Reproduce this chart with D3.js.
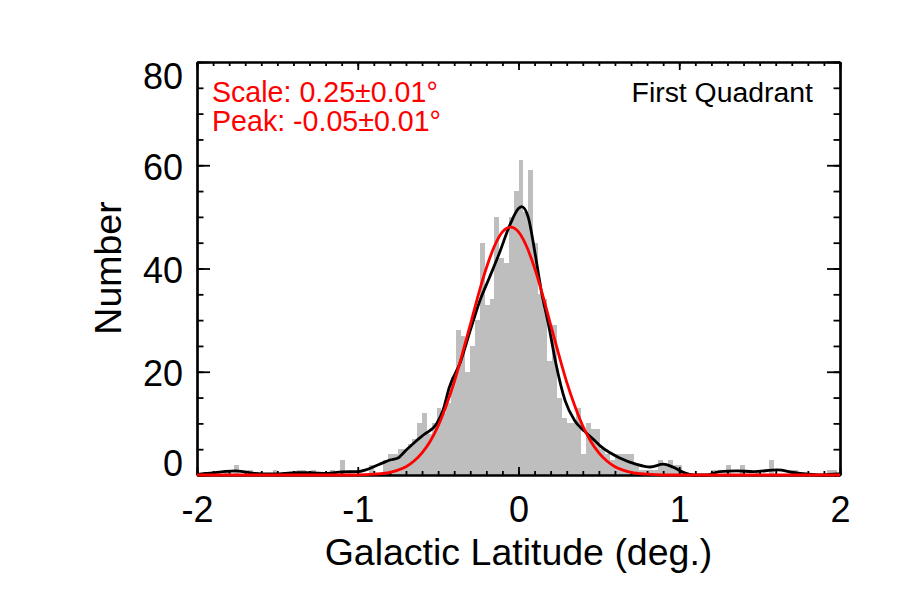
<!DOCTYPE html>
<html>
<head>
<meta charset="utf-8">
<script src="https://cdn.jsdelivr.net/npm/d3@7"></script>
<style>
  body { margin: 0; background: #fff; }
  svg { font-family: "Liberation Sans", Arial, sans-serif; }
</style>
</head>
<body>
<svg id="chart" width="900" height="600"></svg>
<script>
// histogram: bins of 0.03 deg, first bin starts at -1.98
const binStart = -1.98;
const binWidth = 0.03;
const counts = [
  0,0,0,0,0,1,0,2,0,0,
  1,0,0,0,0,1,0,0,0,0,
  1,1,0,1,0,0,0,1,0,3,
  0,0,0,0,0,2,0,0,3,4,
  4,5,5,6,7,10,12,8,10,13,
  12,14,19,28,27,20,25,30,45,33,
  34,50,42,41,50,55,61,51,59,45,
  35,34,22,29,15,11,10,10,13,4,
  10,9,9,5,4,3,4,4,4,4,
  2,1,1,1,1,3,2,3,2,2,
  0,0,0,0,0,0,1,0,0,2,
  0,0,2,0,0,1,0,0,3,0,
  0,0,1,1,0,0,0,0,0,0,
  1,1,0
];

// smoothed distribution (black)
const smoothX = [-2.0,-1.95,-1.89,-1.82,-1.76,-1.7,-1.64,-1.54,-1.46,-1.39,-1.3,-1.19,-1.1,-1.0,-0.95,-0.9,-0.84,-0.8,-0.75,-0.7,-0.64,-0.59,-0.51,-0.47,-0.43,-0.36,-0.3,-0.24,-0.18,-0.12,-0.05,0.0,0.02,0.06,0.1,0.14,0.19,0.23,0.29,0.35,0.41,0.48,0.51,0.57,0.63,0.73,0.82,0.9,0.96,1.03,1.09,1.17,1.25,1.36,1.46,1.61,1.71,1.79,1.88,1.98,2.0];
const smoothY = [0.1,0.3,0.45,0.7,0.8,0.6,0.3,0.2,0.3,0.45,0.45,0.3,0.6,0.65,1.0,1.6,2.4,2.9,3.3,4.8,6.5,7.8,9.9,12.5,17,22,28,33.8,38.3,42.9,48.7,51.6,52,50,43.5,36,28.6,22,14.4,10.5,8.5,6.5,5.6,4.3,3.3,2.1,1.55,2.1,1.55,0.45,0,0,0.65,0.8,0.65,1.0,0.5,0.2,0,0.2,0.2];

// gaussian fit (red)
const fitX = [-2,-1.0,-0.9,-0.8,-0.75,-0.7,-0.65,-0.6,-0.55,-0.5,-0.45,-0.4,-0.35,-0.3,-0.25,-0.2,-0.15,-0.1,-0.05,0,0.05,0.1,0.15,0.2,0.25,0.3,0.35,0.4,0.45,0.5,0.55,0.6,0.65,0.7,0.8,0.9,2];
const fitY = [0,0,0.15,0.5,0.95,1.6,2.7,4.3,6.5,9.5,13.4,18,23.4,29.1,34.9,40.1,44.3,47.1,48,47.1,44.3,40.1,34.9,29.1,23.4,18,13.4,9.5,6.5,4.3,2.7,1.6,0.95,0.5,0.15,0,0];

const xTicks = [-2,-1,0,1,2];
const yTicks = [0,20,40,60,80];
const fitLabels = ['Scale: 0.25\u00B10.01\u00B0', 'Peak: -0.05\u00B10.01\u00B0'];
const regionLabel = 'First Quadrant';

const svg = d3.select('#chart');
const margin = { top: 62, right: 60, bottom: 125, left: 197 };
const width = 900 - margin.left - margin.right;
const height = 600 - margin.top - margin.bottom;

const x = d3.scaleLinear().domain([-2, 2]).range([0, width]);
const y = d3.scaleLinear().domain([0, 80]).range([height, 0]);

const g = svg.append('g')
    .attr('transform', 'translate(' + margin.left + ',' + margin.top + ')');

g.append('clipPath').attr('id', 'plotClip')
  .append('rect').attr('width', width).attr('height', height);

// bars (crisp edges so neighbouring bars join without seams)
g.append('g').attr('clip-path', 'url(#plotClip)')
  .selectAll('rect')
  .data(counts)
  .enter()
  .append('rect')
    .attr('x', (d, i) => Math.round(x(binStart + i * binWidth)))
    .attr('width', (d, i) => Math.round(x(binStart + (i + 1) * binWidth)) - Math.round(x(binStart + i * binWidth)))
    .attr('y', d => y(d))
    .attr('height', d => y(0) - y(d))
    .attr('fill', '#bebebe')
    .attr('shape-rendering', 'crispEdges');

// axes: ticks point inward on all four sides
const xMinor = d3.range(-2, 2.0001, 0.1);
const yMinor = d3.range(0, 80.001, 5);

function styleAxis(sel) {
  sel.select('.domain').attr('stroke', '#000').attr('stroke-width', 2.2);
  sel.selectAll('.tick line').attr('stroke', '#000').attr('stroke-width', 1.8);
}

// bottom
g.append('g').attr('transform', 'translate(0,' + height + ')')
  .call(d3.axisBottom(x).tickValues(xMinor).tickSize(-4).tickSizeOuter(0).tickFormat(''))
  .call(styleAxis);
const xAx = g.append('g').attr('transform', 'translate(0,' + height + ')')
  .call(d3.axisBottom(x).tickValues(xTicks).tickSize(-8).tickSizeOuter(0).tickPadding(21.5).tickFormat(d3.format('d')))
  .call(styleAxis);
xAx.selectAll('text').attr('font-size', 36).attr('fill', '#000')
  .attr('font-family', '"Liberation Sans", Arial, sans-serif')
  .text(d => d < 0 ? '-' + Math.abs(d) : d);

// top
g.append('g')
  .call(d3.axisTop(x).tickValues(xMinor).tickSize(-4).tickSizeOuter(0).tickFormat(''))
  .call(styleAxis);
g.append('g')
  .call(d3.axisTop(x).tickValues(xTicks).tickSize(-8).tickSizeOuter(0).tickFormat(''))
  .call(styleAxis);

// left
g.append('g')
  .call(d3.axisLeft(y).tickValues(yMinor).tickSize(-6.5).tickSizeOuter(0).tickFormat(''))
  .call(styleAxis);
const yAx = g.append('g')
  .call(d3.axisLeft(y).tickValues(yTicks).tickSize(-13).tickSizeOuter(0).tickPadding(14).tickFormat(d3.format('d')))
  .call(styleAxis);
yAx.selectAll('text').attr('font-size', 36).attr('fill', '#000')
  .attr('font-family', '"Liberation Sans", Arial, sans-serif')
  .attr('dy', d => d === 80 ? '26px' : (d === 0 ? '0px' : '14px'));

// right
g.append('g').attr('transform', 'translate(' + width + ',0)')
  .call(d3.axisRight(y).tickValues(yMinor).tickSize(-6.5).tickSizeOuter(0).tickFormat(''))
  .call(styleAxis);
g.append('g').attr('transform', 'translate(' + width + ',0)')
  .call(d3.axisRight(y).tickValues(yTicks).tickSize(-13).tickSizeOuter(0).tickFormat(''))
  .call(styleAxis);

// curves
const smoothData = smoothX.map((v, i) => [v, smoothY[i]]);
const fitData = fitX.map((v, i) => [v, fitY[i]]);
const line = d3.line()
    .x(d => x(d[0]))
    .y(d => y(d[1]))
    .curve(d3.curveMonotoneX);

g.append('path').datum(smoothData)
  .attr('d', line)
  .attr('fill', 'none')
  .attr('stroke', '#000')
  .attr('stroke-width', 2.8)
  .attr('stroke-linejoin', 'round');

g.append('path').datum(fitData)
  .attr('d', line)
  .attr('fill', 'none')
  .attr('stroke', '#ff0000')
  .attr('stroke-width', 2.8)
  .attr('stroke-linejoin', 'round');

// annotations
g.selectAll('.fit-label')
  .data(fitLabels)
  .enter()
  .append('text')
    .attr('class', 'fit-label')
    .attr('x', 15)
    .attr('y', (d, i) => 39.7 + i * 29.3)
    .attr('font-size', 28.6)
    .attr('fill', '#ff0000')
    .text(d => d);

g.append('text')
  .attr('x', width - 27)
  .attr('y', 39.7)
  .attr('text-anchor', 'end')
  .attr('font-size', 28.4)
  .attr('fill', '#000')
  .text(regionLabel);

// axis titles
g.append('text')
  .attr('x', width / 2)
  .attr('y', height + 90)
  .attr('text-anchor', 'middle')
  .attr('font-size', 37.5)
  .attr('fill', '#000')
  .text('Galactic Latitude (deg.)');

svg.append('text')
  .attr('transform', 'translate(121,268) rotate(-90)')
  .attr('text-anchor', 'middle')
  .attr('font-size', 37.5)
  .attr('fill', '#000')
  .text('Number');
</script>
</body>
</html>
